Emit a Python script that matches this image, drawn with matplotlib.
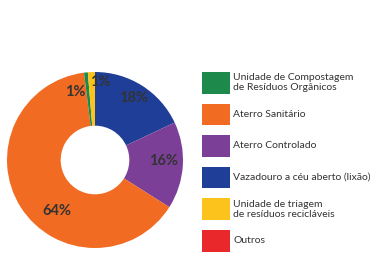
import matplotlib.pyplot as plt
from matplotlib.patches import Rectangle

# dados (%)
categorias = ['Vazadouro a céu aberto (lixão)', 'Aterro Controlado', 'Aterro Sanitário',
              'Unidade de Compostagem\nde Resíduos Orgânicos',
              'Unidade de triagem\nde resíduos recicláveis', 'Outros']
valores = [18, 16, 64, 0.7, 1.3, 0]
rotulos = ['18%', '16%', '64%', '1%', '1%', '']
cores = ['#1f3e98', '#7c3f98', '#f26b22', '#1d8a4b', '#fbc31c', '#e8282b']

# ordem da legenda
ordem_legenda = [3, 2, 1, 0, 4, 5]

W, H = 377, 264
fig = plt.figure(figsize=(W / 100, H / 100), dpi=100)
fig.patch.set_facecolor('white')

# rosca
cx, cy, r = 95, 160, 88
ax = fig.add_axes([(cx - r) / W, (H - cy - r) / H, 2 * r / W, 2 * r / H])
wedges, _ = ax.pie(valores, colors=cores, startangle=90, counterclock=False,
                   radius=1, wedgeprops=dict(width=0.61, linewidth=0))
ax.set_xlim(-1, 1)
ax.set_ylim(-1, 1)
ax.set_aspect('equal')
ax.axis('off')

# posição dos rótulos (pixels da imagem)
pos_rotulos = [(134, 98), (164, 161), (57, 211), (75, 92), (100, 82), None]
for txt, p in zip(rotulos, pos_rotulos):
    if p is None:
        continue
    ax.text((p[0] - cx) / r, (cy - p[1]) / r, txt, ha='center', va='center',
            fontsize=10.5, fontweight='bold', color='#333333', family='Lato')

# legenda feita à mão
y0, passo = 72, 31.6
for k, i in enumerate(ordem_legenda):
    top = y0 + k * passo
    fig.add_artist(Rectangle((202 / W, (H - top - 21.5) / H), 28 / W, 21.5 / H,
                             transform=fig.transFigure, color=cores[i], lw=0))
    fig.text(233 / W, (H - top - 10.75) / H, categorias[i], ha='left', va='center',
             fontsize=7.5, color='#333333', family='Lato', linespacing=1.15)

plt.savefig('out.png', dpi=100)
